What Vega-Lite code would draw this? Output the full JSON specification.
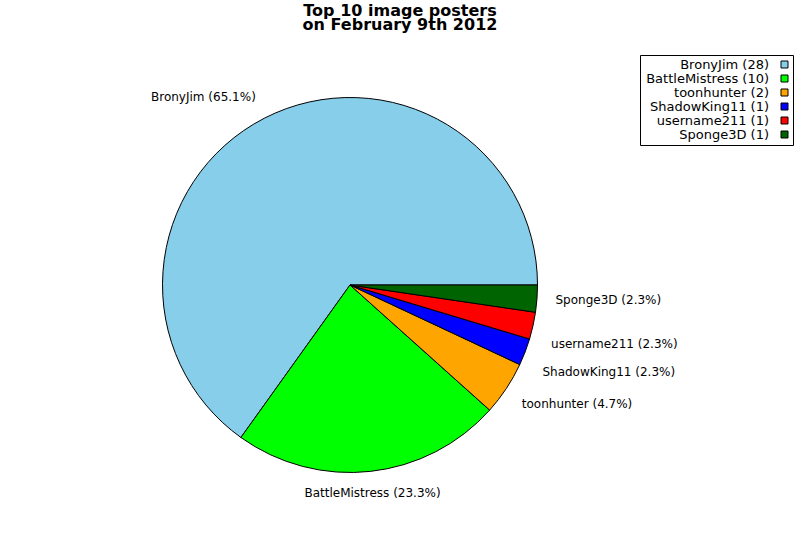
{
  "$schema": "https://vega.github.io/schema/vega-lite/v6.json",
  "width": 700,
  "height": 510,
  "autosize": {"type": "none"},
  "padding": {"left": 0, "top": 30, "right": 100, "bottom": 0},
  "background": "white",
  "title": {
    "text": ["Top 10 image posters", "on February 9th 2012"],
    "font": "DejaVu Sans",
    "fontSize": 16,
    "fontWeight": "bold",
    "lineHeight": 14,
    "color": "black",
    "anchor": "middle",
    "dx": 50,
    "dy": 3,
    "offset": 0
  },
  "data": {
    "values": [
      {"rank": 1, "name": "BronyJim", "count": 28, "entry": "BronyJim (28)", "label": "BronyJim (65.1%)"},
      {"rank": 2, "name": "BattleMistress", "count": 10, "entry": "BattleMistress (10)", "label": "BattleMistress (23.3%)"},
      {"rank": 3, "name": "toonhunter", "count": 2, "entry": "toonhunter (2)", "label": "toonhunter (4.7%)"},
      {"rank": 4, "name": "ShadowKing11", "count": 1, "entry": "ShadowKing11 (1)", "label": "ShadowKing11 (2.3%)"},
      {"rank": 5, "name": "username211", "count": 1, "entry": "username211 (1)", "label": "username211 (2.3%)"},
      {"rank": 6, "name": "Sponge3D", "count": 1, "entry": "Sponge3D (1)", "label": "Sponge3D (2.3%)"}
    ]
  },
  "encoding": {
    "theta": {"field": "count", "type": "quantitative", "stack": true, "scale": {"range": [1.5707963, -4.712389]}},
    "order": {"field": "rank", "type": "quantitative"},
    "detail": {"field": "entry", "type": "nominal"}
  },
  "layer": [
    {
      "mark": {"type": "arc", "outerRadius": 187.5, "stroke": "black", "strokeWidth": 1},
      "encoding": {
        "color": {
          "field": "entry",
          "type": "nominal",
          "scale": {
            "domain": ["BronyJim (28)", "BattleMistress (10)", "toonhunter (2)", "ShadowKing11 (1)", "username211 (1)", "Sponge3D (1)"],
            "range": ["#87CEEB", "#00FF00", "#FFA500", "#0000FF", "#FF0000", "#006400"]
          },
          "legend": {
            "title": null,
            "orient": "none",
            "legendX": 640,
            "legendY": 25,
            "strokeColor": "black",
            "fillColor": "white",
            "padding": 3,
            "cornerRadius": 0,
            "labelFont": "DejaVu Sans",
            "labelFontSize": 13,
            "labelColor": "black",
            "labelAlign": "right",
            "labelOffset": -22,
            "symbolOffset": 135,
            "symbolType": "square",
            "symbolSize": 49,
            "symbolStrokeColor": "black",
            "symbolStrokeWidth": 1,
            "symbolOpacity": 1,
            "rowPadding": 0
          }
        }
      }
    },
    {
      "mark": {
        "type": "text",
        "radius": 206,
        "font": "DejaVu Sans",
        "fontSize": 12,
        "fill": "black",
        "align": {"expr": "datum.name === 'BronyJim' ? 'right' : (datum.name === 'BattleMistress' ? 'center' : 'left')"},
        "dy": {"expr": "datum.name === 'BronyJim' ? -5 : (datum.name === 'BattleMistress' ? 3 : (datum.name === 'username211' ? 14 : (datum.name === 'ShadowKing11' ? 13 : (datum.name === 'toonhunter' ? 5 : 0))))"}
      },
      "encoding": {
        "text": {"field": "label", "type": "nominal"}
      }
    }
  ],
  "config": {"view": {"stroke": null}}
}
